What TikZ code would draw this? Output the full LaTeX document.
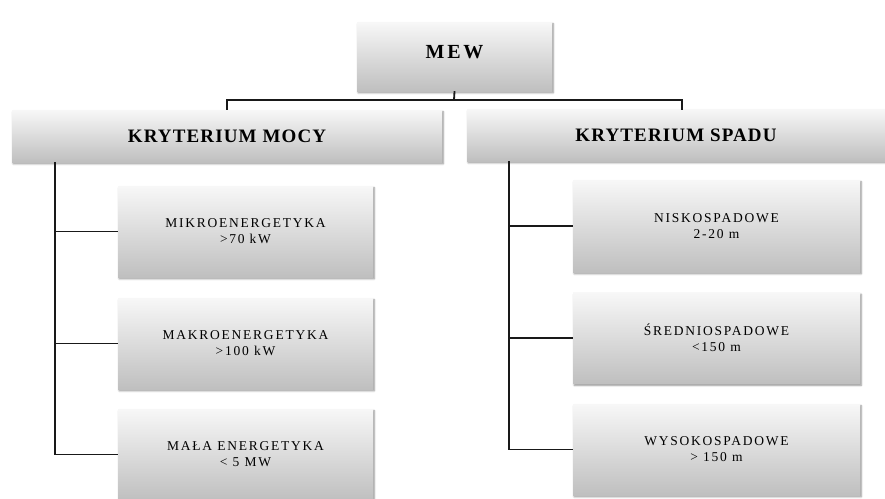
\documentclass[tikz,border=0pt]{standalone}
\usepackage{fontspec}
\setmainfont{Liberation Serif}
\usetikzlibrary{shadows.blur}
\tikzset{
  box/.style={top color=black!3, bottom color=black!25, draw=none,
    blur shadow={shadow xshift=1.2pt, shadow yshift=-1.8pt, shadow blur steps=6, shadow opacity=45},
    align=center, inner sep=2pt},
  headbox/.style={box, font=\fontsize{19}{21}\selectfont\bfseries\addfontfeature{LetterSpace=6}},
  leafbox/.style={box, font=\fontsize{13.5}{16}\selectfont\addfontfeature{LetterSpace=13}},
  link/.style={line width=1.8pt, draw=black!90}
}
\begin{document}
\begin{tikzpicture}[x=1pt,y=-1pt]
\useasboundingbox (0,0) rectangle (885,498);
\begin{scope}
\clip (0,0) rectangle (885,498);
\node[box, minimum width=195pt, minimum height=69pt, font=\fontsize{20}{22}\selectfont\bfseries\addfontfeature{LetterSpace=14}] (mew) at (454.5,56.5) {MEW\\[-13pt]};
\node[headbox, minimum width=430pt, minimum height=52pt] (lh) at (227,136) {KRYTERIUM MOCY};
\node[headbox, minimum width=418pt, minimum height=52pt] (rh) at (676,135) {KRYTERIUM SPADU};

\node[leafbox, minimum width=255pt, minimum height=91pt] (l1) at (245.5,231.5) {MIKROENERGETYKA\\>70 kW};
\node[leafbox, minimum width=255pt, minimum height=91pt] (l2) at (245.5,343.5) {MAKROENERGETYKA\\>100 kW};
\node[leafbox, minimum width=255pt, minimum height=91pt] (l3) at (245.5,454.5) {MAŁA ENERGETYKA\\< 5 MW};

\node[leafbox, minimum width=287pt, minimum height=92pt] (r1) at (716.5,226) {NISKOSPADOWE\\2-20 m};
\node[leafbox, minimum width=287pt, minimum height=91pt] (r2) at (716.5,338) {ŚREDNIOSPADOWE\\<150 m};
\node[leafbox, minimum width=287pt, minimum height=91pt] (r3) at (716.5,449.5) {WYSOKOSPADOWE\\> 150 m};
\end{scope}

\coordinate (tj) at (454,100);
\coordinate (rdrop) at (682,110);
\coordinate (lbus) at (55,162);
\coordinate (rbus) at (509,161);

\draw[link] (mew.south) -- (tj);
\draw[link] (tj) -| (lh.north);
\draw[link] (tj) -| (rdrop);

\draw[link] (lbus) |- (l3.west);
\draw[link] (lbus |- l1.west) -- (l1.west);
\draw[link] (lbus |- l2.west) -- (l2.west);

\draw[link] (rbus) |- (r3.west);
\draw[link] (rbus |- r1.west) -- (r1.west);
\draw[link] (rbus |- r2.west) -- (r2.west);
\end{tikzpicture}
\end{document}
